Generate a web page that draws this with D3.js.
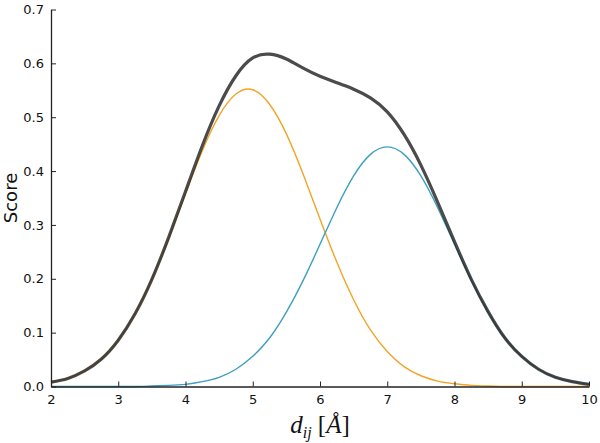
<!DOCTYPE html>
<html>
<head>
<meta charset="utf-8">
<script src="https://cdn.jsdelivr.net/npm/d3@7"></script>
<style>
  body { margin: 0; background: #fff; }
  text { font-family: "DejaVu Sans", sans-serif; fill: #111; }
</style>
</head>
<body>
<div id="chart"></div>
<script>
// x positions (Å) the curves were read at
const dist = [2.00, 2.25, 2.50, 2.75, 3.00, 3.25, 3.50, 3.75, 4.00, 4.25, 4.50,
  4.75, 5.00, 5.25, 5.50, 5.75, 6.00, 6.25, 6.50, 6.75, 7.00, 7.25, 7.50,
  7.75, 8.00, 8.25, 8.50, 8.75, 9.00, 9.25, 9.50, 9.75, 10.00];

// first component (orange)
const scoreA = [0.008, 0.015, 0.029, 0.051, 0.086, 0.135, 0.199, 0.275, 0.358, 0.438, 0.503,
  0.543, 0.551, 0.524, 0.469, 0.394, 0.311, 0.231, 0.161, 0.105, 0.065, 0.037, 0.020,
  0.010, 0.005, 0.002, 0.001, 0.000, 0.000, 0.000, 0.000, 0.000, 0.000];

// second component (blue)
const scoreB = [0.000, 0.000, 0.000, 0.000, 0.000, 0.000, 0.001, 0.002, 0.004, 0.009, 0.017,
  0.032, 0.056, 0.090, 0.138, 0.197, 0.264, 0.332, 0.391, 0.431, 0.445, 0.431, 0.391,
  0.332, 0.264, 0.197, 0.138, 0.090, 0.056, 0.032, 0.017, 0.009, 0.004];

// total (dark)
const scoreTotal = [0.008, 0.015, 0.029, 0.051, 0.086, 0.135, 0.199, 0.277, 0.362, 0.447, 0.521,
  0.577, 0.610, 0.617, 0.608, 0.591, 0.576, 0.564, 0.552, 0.536, 0.510, 0.468, 0.411,
  0.342, 0.269, 0.199, 0.139, 0.090, 0.056, 0.032, 0.017, 0.009, 0.004];

const xTicks = [2, 3, 4, 5, 6, 7, 8, 9, 10];
const yTicks = [0.0, 0.1, 0.2, 0.3, 0.4, 0.5, 0.6, 0.7];

const width = 600, height = 443;
const margin = {top: 9.5, right: 11, bottom: 56.5, left: 51};

const svg = d3.select("#chart")
  .append("svg")
  .attr("width", width)
  .attr("height", height);

const x = d3.scaleLinear().domain([2, 10]).range([margin.left, width - margin.right]);
const y = d3.scaleLinear().domain([0, 0.7]).range([height - margin.bottom, margin.top]);

const line = vals => d3.line()
  .x((d, i) => x(dist[i]))
  .y(d => y(d))
  .curve(d3.curveNatural)(vals);

const plot = svg.append("g");

plot.append("path")
  .attr("d", line(scoreA))
  .attr("fill", "none")
  .attr("stroke", "#f2a428")
  .attr("stroke-width", 1.4);

plot.append("path")
  .attr("d", line(scoreB))
  .attr("fill", "none")
  .attr("stroke", "#3d9fbf")
  .attr("stroke-width", 1.4);

plot.append("path")
  .attr("d", line(scoreTotal))
  .attr("fill", "none")
  .attr("stroke", "#2b2b2b")
  .attr("stroke-opacity", 0.85)
  .attr("stroke-width", 3.2);

// axes: ticks point inward, only left and bottom spines
const xAxis = svg.append("g")
  .attr("transform", `translate(0,${y(0)})`)
  .call(d3.axisBottom(x).tickValues(xTicks).tickFormat(d3.format("d")).tickSizeInner(-5).tickSizeOuter(0).tickPadding(8));

const yAxis = svg.append("g")
  .attr("transform", `translate(${x(2)},0)`)
  .call(d3.axisLeft(y).tickValues(yTicks).tickFormat(d3.format(".1f")).tickSizeInner(-5).tickSizeOuter(0).tickPadding(7));

[xAxis, yAxis].forEach(g => {
  g.select(".domain").attr("stroke", "#222").attr("stroke-width", 1.3);
  g.selectAll(".tick line").attr("stroke", "#222").attr("stroke-width", 1);
  g.selectAll(".tick text")
    .attr("font-family", "DejaVu Sans, sans-serif")
    .attr("font-size", 13)
    .attr("fill", "#111");
});

// axis titles
svg.append("text")
  .attr("transform", `translate(17,${(y(0) + y(0.7)) / 2}) rotate(-90)`)
  .attr("text-anchor", "middle")
  .attr("font-size", 18)
  .text("Score");

const xl = svg.append("text")
  .attr("x", (x(2) + x(10)) / 2)
  .attr("y", 433)
  .attr("text-anchor", "middle")
  .style("font-family", "'Liberation Serif', serif")
  .attr("font-size", 25);
xl.append("tspan").attr("font-style", "italic").text("d");
xl.append("tspan").attr("font-style", "italic").attr("font-size", 16).attr("dy", 5).text("ij");
xl.append("tspan").attr("dy", -5).text(" [");
xl.append("tspan").attr("font-style", "italic").text("Å");
xl.append("tspan").text("]");
</script>
</body>
</html>
